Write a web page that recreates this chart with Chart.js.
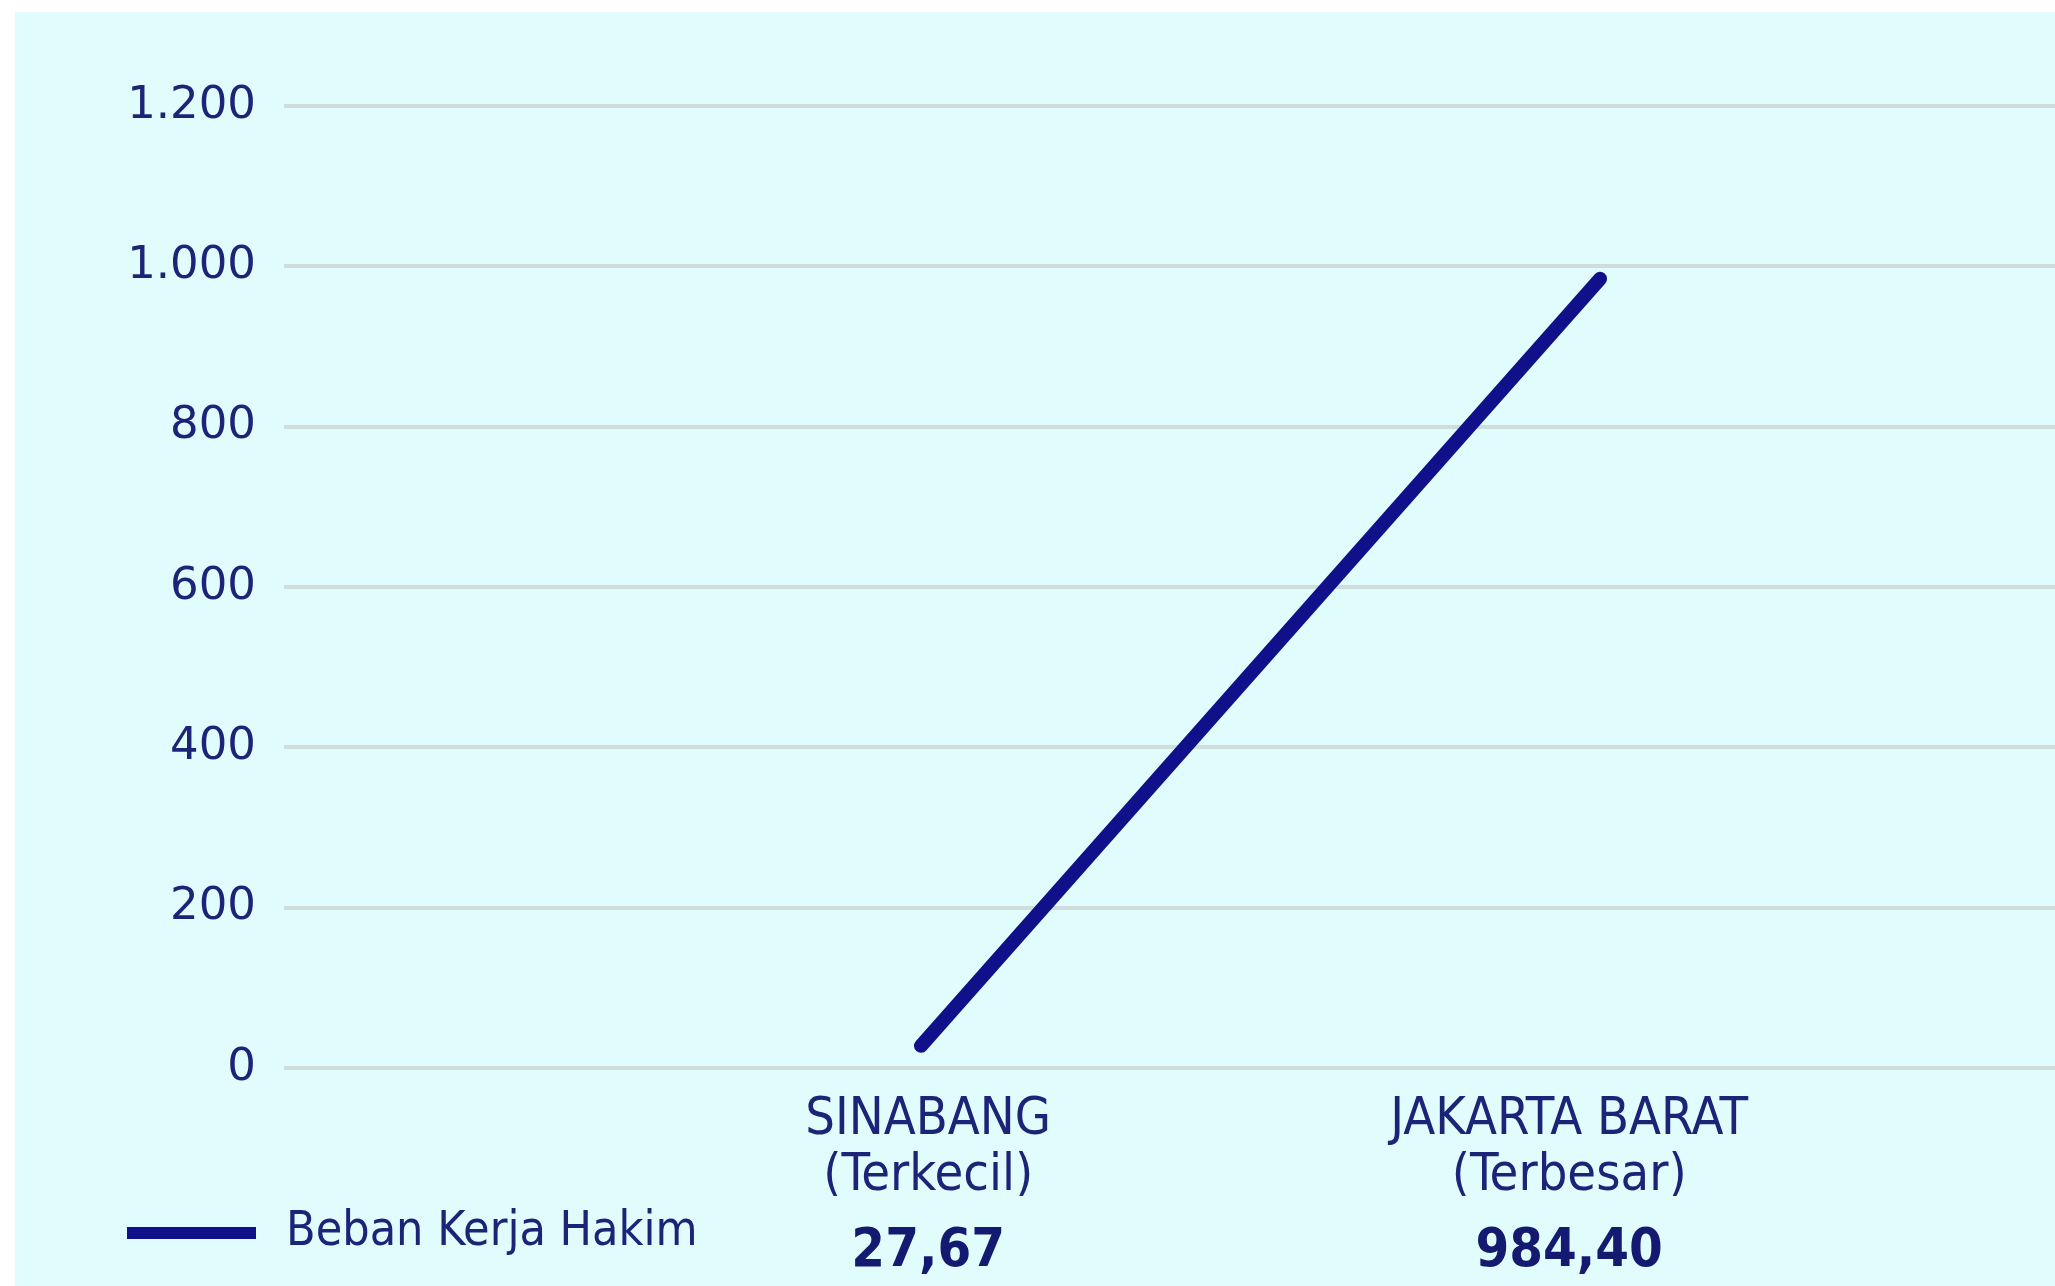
<!DOCTYPE html>
<html>
<head>
<meta charset="utf-8">
<script src="https://cdn.jsdelivr.net/npm/chart.js@4.4.1/dist/chart.umd.min.js"></script>
<style>
  html, body { margin: 0; padding: 0; background: #ffffff; }
  #wrap { position: absolute; left: 15px; top: 12px; width: 2040px; height: 1274px; background: #e1fcfc; }
</style>
</head>
<body>
<div id="wrap"><canvas id="myChart" width="2040" height="1274"></canvas></div>
<script>
// data
var categories = ['SINABANG', 'JAKARTA BARAT'];
var notes = ['(Terkecil)', '(Terbesar)'];
var bebanKerja = [27.67, 984.40];
var valueLabels = ['27,67', '984,40'];
var yTicks = [0, 200, 400, 600, 800, 1000, 1200];
var seriesLabel = 'Beban Kerja Hakim';

var navy = '#10108a';
var textNavy = '#1c2478';

var points = [];
for (var i = 0; i < bebanKerja.length; i++) {
    points.push({x: i + 1, y: bebanKerja[i]});
}

function fmtThousands(v) {
    return String(v).replace(/\B(?=(\d{3})+(?!\d))/g, '.');
}

function categoryTicks(scale) {
    scale.ticks = categories.map(function (c, i) { return {value: i + 1}; });
}

// legend drawn by hand at the bottom left
var legendPlugin = {
    id: 'bottomLegend',
    afterDraw: function (chart) {
        var ctx = chart.ctx;
        var ds = chart.data.datasets[0];
        ctx.save();
        ctx.strokeStyle = ds.borderColor;
        ctx.lineWidth = 12;
        ctx.lineCap = 'butt';
        ctx.beginPath();
        ctx.moveTo(112, 1221);
        ctx.lineTo(241, 1221);
        ctx.stroke();
        ctx.fillStyle = textNavy;
        ctx.font = '48px "DejaVu Sans Condensed", "DejaVu Sans"';
        ctx.textBaseline = 'middle';
        ctx.textAlign = 'left';
        ctx.fillText(ds.label, 271, 1221);
        ctx.restore();
    }
};

var ctx = document.getElementById('myChart');
var myChart = new Chart(ctx, {
    type: 'line',
    data: {
        datasets: [{
            label: seriesLabel,
            data: points,
            borderColor: navy,
            backgroundColor: navy,
            borderWidth: 14,
            borderCapStyle: 'round',
            pointRadius: 0,
            fill: false,
            tension: 0
        }]
    },
    plugins: [legendPlugin],
    options: {
        responsive: false,
        animation: false,
        layout: { padding: { top: 94, right: 0, bottom: 0, left: 0 } },
        plugins: {
            legend: { display: false },
            tooltip: { enabled: false }
        },
        scales: {
            x: {
                type: 'linear',
                display: false,
                min: 0.062,
                max: 2.67
            },
            names: {
                type: 'linear',
                position: 'bottom',
                weight: 1,
                min: -0.005,
                max: 2.758,
                afterBuildTicks: categoryTicks,
                afterFit: function (s) { s.height = 128; },
                grid: { display: false, drawTicks: false },
                border: { display: false },
                ticks: {
                    autoSkip: false,
                    maxRotation: 0,
                    padding: 25,
                    color: textNavy,
                    font: { family: '"DejaVu Sans Condensed", "DejaVu Sans"', size: 52, lineHeight: 1.07 },
                    callback: function (v) { return [categories[v - 1], notes[v - 1]]; }
                }
            },
            vals: {
                type: 'linear',
                position: 'bottom',
                weight: 2,
                min: -0.005,
                max: 2.758,
                afterBuildTicks: categoryTicks,
                afterFit: function (s) { s.height = 90; },
                grid: { display: false, drawTicks: false },
                border: { display: false },
                ticks: {
                    autoSkip: false,
                    maxRotation: 0,
                    padding: 24,
                    color: '#141a70',
                    font: { family: '"DejaVu Sans Condensed", "DejaVu Sans"', size: 54, weight: 'bold', lineHeight: 1.2 },
                    callback: function (v) { return valueLabels[v - 1]; }
                }
            },
            y: {
                min: 0,
                max: 1200,
                afterBuildTicks: function (s) { s.ticks = yTicks.map(function (t) { return {value: t}; }); },
                afterFit: function (s) { s.width = 269; },
                grid: { color: '#d0dddd', lineWidth: 4, drawTicks: false },
                border: { display: false },
                ticks: {
                    padding: 28,
                    color: textNavy,
                    font: { family: '"DejaVu Sans"', size: 45 },
                    callback: function (v) { return fmtThousands(v); }
                }
            }
        }
    }
});
</script>
</body>
</html>
